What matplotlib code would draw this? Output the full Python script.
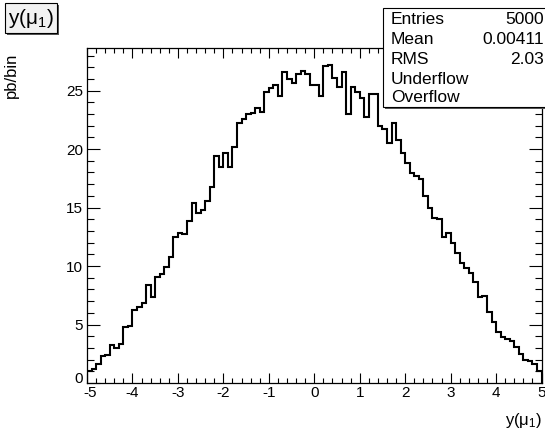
import numpy as np
import matplotlib
matplotlib.use("Agg")
import matplotlib.pyplot as plt
from matplotlib.patches import Rectangle
from matplotlib.ticker import MultipleLocator, FuncFormatter

plt.rcParams['font.family'] = ['Liberation Sans', 'DejaVu Sans']
plt.rcParams['mathtext.default'] = 'regular'

# y(mu_1) distribution, 100 bins between -5 and 5 (pb/bin)
x_lo, x_hi, n_bins = -5.0, 5.0, 100
counts = [
    1.0, 1.17, 1.6, 2.3, 2.4, 3.25, 3.0, 3.3, 4.77, 4.88,
    6.25, 6.5, 6.82, 8.39, 7.39, 9.08, 9.28, 9.93, 10.78, 12.45,
    12.8, 12.76, 13.88, 15.35, 14.52, 14.78, 15.55, 16.8, 19.4, 18.5,
    19.66, 18.5, 20.2, 22.2, 22.6, 23.0, 23.05, 23.5, 23.2, 24.9,
    25.2, 25.5, 24.5, 26.63, 25.95, 25.68, 26.43, 26.68, 26.43, 25.5,
    25.45, 24.5, 27.12, 27.2, 26.1, 25.3, 26.6, 23.0, 25.3, 24.85,
    24.4, 22.75, 24.7, 24.7, 22.0, 21.7, 20.5, 22.2, 20.8, 19.66,
    18.8, 17.95, 17.7, 17.4, 15.95, 15.0, 14.1, 14.0, 12.5, 12.8,
    11.96, 11.1, 10.3, 9.85, 9.4, 8.6, 7.34, 7.45, 6.05, 5.18,
    4.4, 3.95, 3.72, 3.6, 3.1, 2.5, 2.0, 1.9, 1.6, 1.0,
]

stat_names = ['Entries', 'Mean', 'RMS', 'Underflow', 'Overflow']
stat_values = ['5000', '0.00411', '2.03', '', '']

W, H = 545, 438
fig = plt.figure(figsize=(W / 100, H / 100), dpi=100)


def fx(x):
    return x / W


def fy(y):
    return 1 - y / H


ax = fig.add_axes([fx(87), fy(383), fx(541.5) - fx(87), fy(48) - fy(383)])

edges = np.linspace(x_lo, x_hi, n_bins + 1)
ax.stairs(counts, edges, color='black', linewidth=1.5)

ax.set_xlim(x_lo, x_hi)
ax.set_ylim(0, max(counts) * 1.053)

ax.xaxis.set_major_locator(MultipleLocator(1))
ax.xaxis.set_minor_locator(MultipleLocator(0.2))
ax.yaxis.set_major_locator(MultipleLocator(5))
ax.yaxis.set_minor_locator(MultipleLocator(1))

# the two corner labels are drawn by hand below, nudged apart
ax.xaxis.set_major_formatter(FuncFormatter(lambda v, p: '' if v == x_lo else f'{v:.0f}'))
ax.yaxis.set_major_formatter(FuncFormatter(lambda v, p: '' if v == 0 else f'{v:.0f}'))

ax.tick_params(axis='both', which='both', direction='in', top=True, right=True,
               colors='black', labelsize=11)
ax.tick_params(axis='x', which='major', length=7.2, width=0.8, pad=2)
ax.tick_params(axis='x', which='minor', length=3.6, width=0.8)
ax.tick_params(axis='y', which='major', length=9.4, width=0.8, pad=3)
ax.tick_params(axis='y', which='minor', length=4.7, width=0.8)
for s in ax.spines.values():
    s.set_linewidth(0.9)

ax.annotate('0', xy=(0, 0), xycoords=('axes fraction', 'data'), xytext=(-3, 3),
            textcoords='offset points', ha='right', va='center', fontsize=11)
ax.annotate(f'{x_lo:.0f}', xy=(x_lo, 0), xycoords=('data', 'axes fraction'),
            xytext=(2, -2), textcoords='offset points', ha='center', va='top',
            fontsize=11)

# axis titles placed at the end of the axes, ROOT style
fig.text(fx(11), fy(53), 'pb/bin', rotation=90, ha='center', va='top', fontsize=12)
fig.text(fx(542), fy(420), r'y($\mu_{1}$)', ha='right', va='center', fontsize=12)

# title pave with shadow
fig.add_artist(Rectangle((fx(7), fy(35)), fx(52), fy(3) - fy(33),
                         transform=fig.transFigure, facecolor='#555555',
                         edgecolor='none'))
fig.add_artist(Rectangle((fx(5), fy(33)), fx(52), fy(3) - fy(33),
                         transform=fig.transFigure, facecolor='#f2f2f2',
                         edgecolor='black', linewidth=0.8))
fig.text(fx(31), fy(18), r'y($\mu_{1}$)', ha='center', va='center', fontsize=15)

# statistics box
fig.add_artist(Rectangle((fx(385), fy(109)), fx(200), fy(8) - fy(107),
                         transform=fig.transFigure, facecolor='#555555',
                         edgecolor='none'))
fig.add_artist(Rectangle((fx(383), fy(107)), fx(200), fy(8) - fy(107),
                         transform=fig.transFigure, facecolor='white',
                         edgecolor='black', linewidth=0.8))
row_y = [19, 39, 59, 79, 98]
for name, val, yy in zip(stat_names, stat_values, row_y):
    fig.text(fx(391), fy(yy), name, ha='left', va='center', fontsize=12.5)
    if val:
        fig.text(fx(544), fy(yy), val, ha='right', va='center', fontsize=12.5)

fig.savefig('out.png', dpi=100, facecolor='white')
